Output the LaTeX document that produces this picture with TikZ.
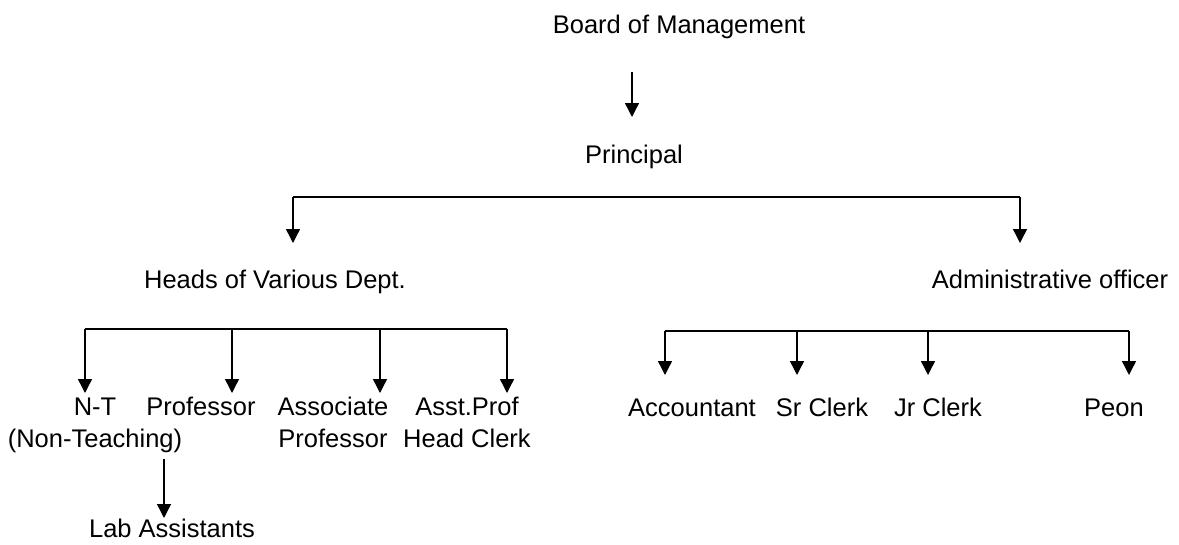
\documentclass[tikz,border=0pt]{standalone}
\usepackage{fontspec}
\setmainfont{Liberation Sans}
\usetikzlibrary{arrows.meta}
\tikzset{
  lbl/.style={anchor=base, inner sep=0pt, font=\fontsize{25.5}{32}\selectfont},
  arr/.style={line width=1.4pt, -{Triangle[width=14pt,length=14pt]}},
  bus/.style={line width=1.4pt}
}
\newcommand{\twoline}[2]{\begin{tabular}[t]{@{}c@{}}#1\\#2\end{tabular}}
\begin{document}
\begin{tikzpicture}[x=1pt,y=-1pt]
\useasboundingbox (0,0) rectangle (1179,544);
% texts
\node[lbl] (board) at (679,33) {Board of Management};
\node[lbl] (principal) at (634,163) {Principal};
\node[lbl] (heads) at (275,288) {Heads of Various Dept.};
\node[lbl] (admin) at (1050,288) {Administrative officer};
\node[lbl] (nt) at (95,415) {\twoline{N-T\hspace{12pt}}{(Non-Teaching)}};
\node[lbl] (prof) at (201,415) {Professor};
\node[lbl] (assoc) at (333,415) {\twoline{Associate}{Professor}};
\node[lbl] (asst) at (467,415) {\twoline{Asst.Prof}{Head Clerk}};
\node[lbl] (lab) at (172,537) {Lab Assistants};
\node[lbl] (acc) at (692,416) {Accountant};
\node[lbl] (sr) at (822,416) {Sr Clerk};
\node[lbl] (jr) at (938,416) {Jr Clerk};
\node[lbl] (peon) at (1114,416) {Peon};
% coordinates
\coordinate (b0) at (632,72);
\coordinate (p0) at (632,117);
\coordinate (tl) at (293,197);
\coordinate (tr) at (1020,197);
\coordinate (tlt) at (293,243);
\coordinate (trt) at (1020,243);
\coordinate (l1) at (85,329);
\coordinate (l2) at (232,329);
\coordinate (l3) at (380,329);
\coordinate (l4) at (507,329);
\coordinate (r1) at (665,331);
\coordinate (r2) at (797,331);
\coordinate (r3) at (928,331);
\coordinate (r4) at (1129,331);
\coordinate (labtop) at (164,459);
\coordinate (labtip) at (164,518);
% connectors
\draw[arr] (b0) -- (p0);
\draw[bus] (tl) -- (tr);
\draw[arr] (tl) -- (tlt);
\draw[arr] (tr) -- (trt);
\draw[bus] (l1) -- (l4);
\foreach \c in {l1,l2,l3,l4} \draw[arr] (\c) -- ++(0,64);
\draw[bus] (r1) -- (r4);
\foreach \c in {r1,r2,r3,r4} \draw[arr] (\c) -- ++(0,44);
\draw[arr] (labtop) -- (labtip);
\end{tikzpicture}
\end{document}
